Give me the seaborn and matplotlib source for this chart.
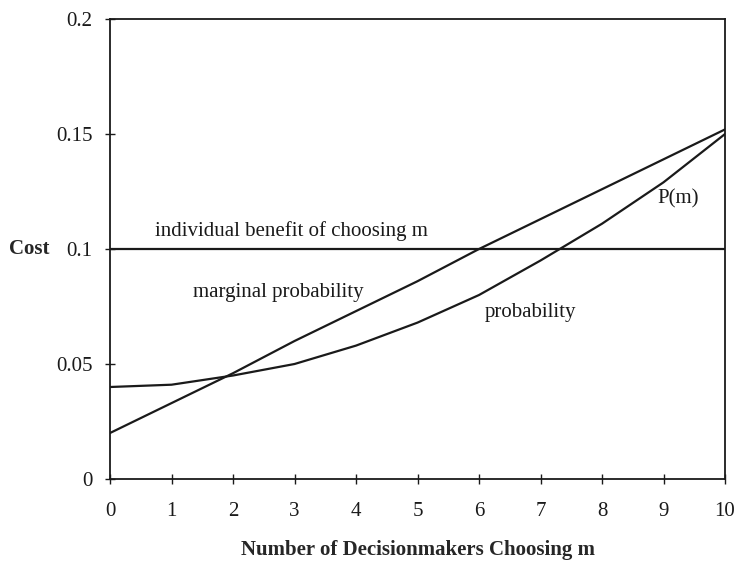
import pandas as pd
import matplotlib
matplotlib.use("Agg")
import matplotlib.pyplot as plt
import seaborn as sns

m = [0, 1, 2, 3, 4, 5, 6, 7, 8, 9, 10]
marginal = [0.020, 0.033, 0.046, 0.060, 0.073, 0.086, 0.100, 0.113, 0.126, 0.139, 0.152]
prob = [0.040, 0.041, 0.045, 0.050, 0.058, 0.068, 0.080, 0.095, 0.111, 0.129, 0.150]
benefit = [0.1] * len(m)

df = pd.DataFrame({"m": m, "marginal": marginal, "probability": prob, "benefit": benefit})

sns.set_style("white")
plt.rcParams['font.family'] = ['Liberation Serif', 'DejaVu Serif']

fig = plt.figure(figsize=(7.35, 5.68), dpi=100)
ax = fig.add_axes([0.1497, 0.1567, 0.8367, 0.8098])

for col in ["benefit", "marginal", "probability"]:
    sns.lineplot(data=df, x="m", y=col, ax=ax, color="#1a1a1a", linewidth=1.6)

ax.set_xlim(0, 10)
ax.set_ylim(0, 0.2)
ax.set_xticks(m)
ax.set_xticklabels([str(v) for v in m])
ax.set_yticks([0, 0.05, 0.1, 0.15, 0.2])
ax.set_yticklabels(["0", "0.05", "0.1", "0.15", "0.2"])
ax.tick_params(axis="both", direction="inout", length=7, width=1, colors="#1a1a1a",
               labelsize=15, bottom=True, left=True)
ax.tick_params(axis="x", pad=13)
ax.tick_params(axis="y", pad=9)
for s in ax.spines.values():
    s.set_color("#1a1a1a")
    s.set_linewidth(1.3)

ax.set_xlabel("Number of Decisionmakers Choosing m", fontsize=15, fontweight="bold")
ax.xaxis.set_label_coords(0.5, -0.154)
ax.xaxis.label.set_va("center")
ax.set_ylabel("Cost", fontsize=15, fontweight="bold", rotation=0, va="center", ha="center")
ax.yaxis.set_label_coords(-0.132, 0.5)

ax.text(0.73, 0.108, "individual benefit of choosing m", fontsize=15, va="center", color="#1a1a1a")
ax.text(1.35, 0.081, "marginal probability", fontsize=15, va="center", color="#1a1a1a")
ax.text(6.1, 0.0726, "probability", fontsize=15, va="center", color="#1a1a1a")
ax.text(8.9, 0.122, "P(m)", fontsize=15, va="center", color="#1a1a1a")

fig.savefig("out.png", dpi=100)
